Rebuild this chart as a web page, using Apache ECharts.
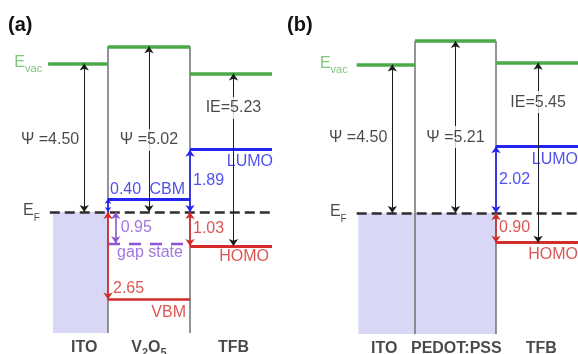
<!DOCTYPE html>
<html>
<head>
<meta charset="utf-8">
<script src="https://cdn.jsdelivr.net/npm/echarts@6/dist/echarts.min.js"></script>
<style>
  html, body { margin: 0; padding: 0; background: #fff; }
  #chart { width: 578px; height: 354px; }
</style>
</head>
<body>
<div id="chart"></div>
<script>
// Energy levels in eV, measured from the Fermi level (EF = 0).

// (a) ITO / V2O5 / TFB
const layersA = ['ITO', 'V2O5', 'TFB'];
const workFunctionA = [4.50, 5.02];   // Ψ of ITO and V2O5
const ionizationA = 5.23;             // IE of TFB
const lumoA = 1.89;                   // TFB LUMO above EF
const homoA = 1.03;                   // TFB HOMO below EF
const cbmV2O5 = 0.40;                 // V2O5 conduction band minimum above EF
const gapStateV2O5 = 0.95;            // V2O5 gap state below EF
const vbmV2O5 = 2.65;                 // V2O5 valence band maximum below EF

// (b) ITO / PEDOT:PSS / TFB
const layersB = ['ITO', 'PEDOT:PSS', 'TFB'];
const workFunctionB = [4.50, 5.21];
const ionizationB = 5.45;
const lumoB = 2.02;
const homoB = 0.90;

// ---------------------------------------------------------------
const FONT = "'Liberation Sans', Arial, Helvetica, sans-serif";
const C = {
  green: '#4aa948', evacText: '#5cb65a', blue: '#2424ee', red: '#d42b2b',
  purple: '#8a55d6', gray: '#707070', black: '#1c1c1c', dash: '#2e2e2e',
  shade: '#d8d8f6'
};

// Panel geometry: x axis counts layer columns (0..3), y axis is energy.
const panels = [
  { tag: '(a)', tagX: 8, grid: { left: 26, top: 14, width: 246, height: 330 },
    evacStart: 0.27, efStart: 0.29, shadeStart: 0.33, shadeEnd: 1, xEnd: 3,
    arrowX: [0.71, 1.5, 2.53], psiLabelY: 2.18, ieLabelY: 3.15,
    evacLabelDx: -6, nameX: [0.71, 1.5, 2.53],
    lumoLabelDx: 1, lumoLabelDy: 12, homoLabelDx: -3, homoLabelDy: 11,
    data: { layers: layersA, psi: workFunctionA, ie: ionizationA, lumo: lumoA, homo: homoA } },
  { tag: '(b)', tagX: 287, grid: { left: 334, top: 15, width: 243, height: 330 },
    evacStart: 0.28, efStart: 0.28, shadeStart: 0.30, shadeEnd: 2, xEnd: 3.02,
    arrowX: [0.72, 1.5, 2.52], psiLabelY: 2.30, ieLabelY: 3.36,
    evacLabelDx: -9, nameX: [0.62, 1.51, 2.56],
    lumoLabelDx: 1, lumoLabelDy: 13, homoLabelDx: 1, homoLabelDy: 12,
    data: { layers: layersB, psi: workFunctionB, ie: ionizationB, lumo: lumoB, homo: homoB } }
];
const BOTTOM = -3.67;
const NAME_Y = -4.16;

const series = [];

function segment(gi, pts, style, z) {
  series.push({
    type: 'lines', coordinateSystem: 'cartesian2d', xAxisIndex: gi, yAxisIndex: gi,
    silent: true, z: z || 3, symbol: 'none', animation: false,
    lineStyle: Object.assign({ opacity: 1, curveness: 0 }, style),
    data: [{ coords: pts }]
  });
}

function arrow(gi, x, y0, y1, color, size) {
  series.push({
    type: 'lines', coordinateSystem: 'cartesian2d', xAxisIndex: gi, yAxisIndex: gi,
    silent: true, z: 4, symbol: ['arrow', 'arrow'], symbolSize: size || 7, animation: false,
    lineStyle: { color: color, width: color === C.black ? 1 : 1.6, opacity: 1, curveness: 0 },
    data: [{ coords: [[x, y0], [x, y1]] }]
  });
}

function richName(name) {
  // digits in formulas are drawn as subscripts
  return name.split(/(\d)/).filter(s => s).map(s => /\d/.test(s) ? '{s|' + s + '}' : '{b|' + s + '}').join('');
}

function txt(x, y, text, o) {
  o = o || {};
  return {
    value: [x, y],
    label: Object.assign({
      show: true, position: 'inside', formatter: text,
      color: C.black, fontSize: 16, fontFamily: FONT,
      align: 'center', verticalAlign: 'middle', offset: [0, 0]
    }, o)
  };
}

panels.forEach((p, gi) => {
  const d = p.data;
  const evacTFB = d.ie - d.homo;
  const labels = [];

  // ITO (and PEDOT:PSS) filled states below EF
  series.push({
    type: 'line', xAxisIndex: gi, yAxisIndex: gi, silent: true, z: 1, animation: false,
    symbol: 'none', lineStyle: { width: 0 }, areaStyle: { color: C.shade, opacity: 1 },
    data: [[p.shadeStart, BOTTOM], [p.shadeEnd, BOTTOM]]
  });

  // interfaces
  segment(gi, [[1, BOTTOM], [1, Math.max(d.psi[0], d.psi[1])]], { color: C.gray, width: 1.5 }, 2);
  segment(gi, [[2, BOTTOM], [2, Math.max(d.psi[1], evacTFB)]], { color: C.gray, width: 1.5 }, 2);

  // vacuum level
  segment(gi, [[p.evacStart, d.psi[0]], [1, d.psi[0]]], { color: C.green, width: 3.5 });
  segment(gi, [[1, d.psi[1]], [2, d.psi[1]]], { color: C.green, width: 3.5 });
  segment(gi, [[2, evacTFB], [p.xEnd, evacTFB]], { color: C.green, width: 3.5 });

  // Fermi level
  segment(gi, [[p.efStart, 0], [p.xEnd, 0]], { color: C.dash, width: 2.5, type: [10, 5] });

  // TFB frontier orbitals
  segment(gi, [[2, d.lumo], [p.xEnd, d.lumo]], { color: C.blue, width: 3.2 });
  segment(gi, [[2, -d.homo], [p.xEnd, -d.homo]], { color: C.red, width: 3.2 });

  // work function / ionization energy arrows
  arrow(gi, p.arrowX[0], 0, d.psi[0], C.black);
  arrow(gi, p.arrowX[1], 0, d.psi[1], C.black);
  arrow(gi, p.arrowX[2], -d.homo, evacTFB, C.black);

  // injection barriers at the TFB interface
  arrow(gi, 2, d.lumo, 0, C.blue);
  arrow(gi, 2, 0, -d.homo, C.red);

  // text
  const evacRich = {
    m: { fontSize: 16, fontFamily: FONT, color: C.evacText, verticalAlign: 'bottom', padding: [0, 0, 4, 0] },
    s: { fontSize: 11, fontFamily: FONT, color: C.evacText, verticalAlign: 'bottom' }
  };
  labels.push(txt(p.evacStart, d.psi[0], '{m|E}{s|vac}', { align: 'right', offset: [p.evacLabelDx, 1], rich: evacRich }));
  const efRich = {
    m: { fontSize: 16, fontFamily: FONT, color: C.black, verticalAlign: 'bottom', padding: [0, 0, 4, 0] },
    s: { fontSize: 10, fontFamily: FONT, color: C.black, verticalAlign: 'bottom' }
  };
  labels.push(txt(p.efStart, 0, '{m|E}{s|F}', { align: 'right', offset: [-10, 1], rich: efRich }));

  labels.push(txt(p.arrowX[0], p.psiLabelY, 'Ψ =' + d.psi[0].toFixed(2), { align: 'right', offset: [-5, 0] }));
  labels.push(txt(p.arrowX[1], p.psiLabelY, 'Ψ =' + d.psi[1].toFixed(2), { backgroundColor: '#fff', padding: [3, 2] }));
  labels.push(txt(p.arrowX[2], p.ieLabelY, 'IE=' + d.ie.toFixed(2), { backgroundColor: '#fff', padding: [3, 2] }));

  labels.push(txt(2, d.lumo / 2, d.lumo.toFixed(2), { color: C.blue, align: 'left', offset: [3, 0] }));
  labels.push(txt(2, -d.homo / 2, d.homo.toFixed(2), { color: C.red, align: 'left', offset: [3, 0] }));
  labels.push(txt(3, d.lumo, 'LUMO', { color: C.blue, align: 'right', offset: [p.lumoLabelDx, p.lumoLabelDy] }));
  labels.push(txt(3, -d.homo, 'HOMO', { color: C.red, align: 'right', offset: [p.homoLabelDx, p.homoLabelDy] }));

  // layer names under the columns
  const nameRich = {
    b: { fontSize: 16, fontWeight: 'bold', fontFamily: FONT, color: C.black, verticalAlign: 'bottom', padding: [0, 0, 3, 0] },
    s: { fontSize: 11, fontWeight: 'bold', fontFamily: FONT, color: C.black, verticalAlign: 'bottom' }
  };
  d.layers.forEach((name, k) => {
    labels.push(txt(p.nameX[k], NAME_Y, richName(name), { rich: nameRich }));
  });

  // V2O5 states (panel a only)
  if (gi === 0) {
    const gx = 1.094;
    segment(gi, [[1, cbmV2O5], [2, cbmV2O5]], { color: C.blue, width: 3 });
    segment(gi, [[1, -vbmV2O5], [2, -vbmV2O5]], { color: C.red, width: 2.6 });
    segment(gi, [[1, -gapStateV2O5], [2, -gapStateV2O5]], { color: C.purple, width: 2.4, type: [12, 9] });
    arrow(gi, 1, cbmV2O5, 0, C.blue, 5);
    arrow(gi, 1, 0, -vbmV2O5, C.red);
    arrow(gi, gx, 0, -gapStateV2O5, C.purple);

    labels.push(txt(1, cbmV2O5, cbmV2O5.toFixed(2), { color: C.blue, align: 'left', offset: [2, -9] }));
    labels.push(txt(2, cbmV2O5, 'CBM', { color: C.blue, align: 'right', offset: [-5, -9] }));
    labels.push(txt(gx, -gapStateV2O5 / 2, gapStateV2O5.toFixed(2), { color: C.purple, align: 'left', offset: [5, 0] }));
    labels.push(txt(1.5, -gapStateV2O5, 'gap state', { color: C.purple, offset: [1, 9] }));
    labels.push(txt(1, -vbmV2O5, vbmV2O5.toFixed(2), { color: C.red, align: 'left', offset: [5, -11] }));
    labels.push(txt(2, -vbmV2O5, 'VBM', { color: C.red, align: 'right', offset: [-4, 13] }));
  }

  series.push({
    type: 'scatter', xAxisIndex: gi, yAxisIndex: gi, silent: true, z: 10, clip: false,
    animation: false, symbolSize: 1, itemStyle: { color: 'rgba(0,0,0,0)' }, data: labels
  });
});

const chart = echarts.init(document.getElementById('chart'), null, { renderer: 'canvas' });
chart.setOption({
  backgroundColor: '#fff',
  animation: false,
  grid: panels.map(p => p.grid),
  xAxis: panels.map((p, i) => ({ type: 'value', gridIndex: i, min: 0, max: 3, show: false })),
  yAxis: panels.map((p, i) => ({ type: 'value', gridIndex: i, min: -4, max: 6, show: false })),
  graphic: panels.map(p => ({
    type: 'text', left: p.tagX, top: 15,
    style: { text: p.tag, font: 'bold 20px ' + FONT, fill: '#111' }
  })),
  series: series
});
</script>
</body>
</html>
